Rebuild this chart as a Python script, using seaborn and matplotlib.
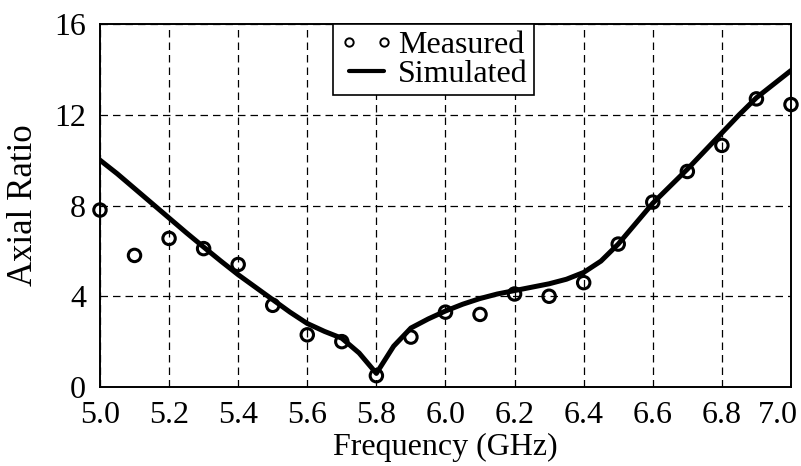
import numpy as np
import pandas as pd
import matplotlib
matplotlib.use("Agg")
import matplotlib.pyplot as plt
import matplotlib.transforms as mtransforms
from matplotlib.lines import Line2D
import seaborn as sns

# Measured axial ratio (every 0.1 GHz)
meas_freq = [5.0, 5.1, 5.2, 5.3, 5.4, 5.5, 5.6, 5.7, 5.8, 5.9, 6.0,
             6.1, 6.2, 6.3, 6.4, 6.5, 6.6, 6.7, 6.8, 6.9, 7.0]
meas_ar = [7.8, 5.8, 6.55, 6.1, 5.4, 3.6, 2.3, 2.0, 0.5, 2.2, 3.3,
           3.2, 4.1, 4.0, 4.6, 6.3, 8.15, 9.5, 10.65, 12.7, 12.45]

# Simulated axial ratio (every 0.05 GHz)
sim_freq = [5.00, 5.05, 5.10, 5.15, 5.20, 5.25, 5.30, 5.35, 5.40, 5.45,
            5.50, 5.55, 5.60, 5.65, 5.70, 5.75, 5.80, 5.85, 5.90, 5.95,
            6.00, 6.05, 6.10, 6.15, 6.20, 6.25, 6.30, 6.35, 6.40, 6.45,
            6.50, 6.55, 6.60, 6.65, 6.70, 6.75, 6.80, 6.85, 6.90, 6.95, 7.00]
sim_ar = [10.0, 9.4, 8.75, 8.1, 7.45, 6.8, 6.17, 5.55, 4.95, 4.4,
          3.85, 3.3, 2.8, 2.45, 2.15, 1.5, 0.6, 1.8, 2.6, 3.0,
          3.35, 3.65, 3.9, 4.1, 4.25, 4.4, 4.55, 4.75, 5.05, 5.55,
          6.3, 7.2, 8.1, 8.85, 9.6, 10.4, 11.2, 12.0, 12.75, 13.35, 13.95]

x_ticks = [5.0, 5.2, 5.4, 5.6, 5.8, 6.0, 6.2, 6.4, 6.6, 6.8, 7.0]
y_ticks = [0, 4, 8, 12, 16]

sns.set_theme(style="white")
plt.rcParams["font.family"] = ["Liberation Serif", "DejaVu Serif"]
plt.rcParams["text.color"] = "black"
plt.rcParams["axes.labelcolor"] = "black"

meas_df = pd.DataFrame({"Frequency": meas_freq, "AR": meas_ar})
sim_df = pd.DataFrame({"Frequency": sim_freq, "AR": sim_ar})

fig = plt.figure(figsize=(8.01, 4.66), dpi=100)
ax = fig.add_axes([0.1248, 0.1695, 0.8627, 0.779])

sns.lineplot(data=sim_df, x="Frequency", y="AR", ax=ax, color="black",
             linewidth=3.6, legend=False, zorder=3)
sns.scatterplot(data=meas_df, x="Frequency", y="AR", ax=ax, marker="o",
                s=80, facecolor="none", edgecolor="black", linewidth=2.2,
                legend=False, zorder=4, clip_on=False)

ax.set_xlim(5.0, 7.0)
ax.set_ylim(0, 16)
ax.set_xticks(x_ticks)
ax.set_xticklabels([f"{v:.1f}" for v in x_ticks])
ax.set_yticks(y_ticks)
ax.set_yticklabels([str(v) for v in y_ticks])

ax.grid(True, color="black", linestyle=(0, (6, 4)), linewidth=0.9)
for s in ax.spines.values():
    s.set_color("black")
    s.set_linewidth(1.4)
ax.tick_params(axis="both", direction="out", length=7, width=1.2,
               colors="black", labelsize=23, pad=3)

# pull the last frequency label in from the figure edge
last = ax.get_xticklabels()[-1]
last.set_transform(last.get_transform() +
                   mtransforms.ScaledTranslation(-13 / 100, 0,
                                                 fig.dpi_scale_trans))

ax.set_xlabel("Frequency (GHz)", fontsize=23, labelpad=2)
ax.set_ylabel("Axial Ratio", fontsize=25, labelpad=10)

# Legend with small hollow markers and a short thick line
h_meas = Line2D([], [], marker="o", linestyle="none", markersize=6,
                markerfacecolor="none", markeredgecolor="black",
                markeredgewidth=1.4)
h_sim = Line2D([], [], color="black", linewidth=3.0)
leg = ax.legend([h_meas, h_sim], ["Measured", "Simulated"],
                loc="upper left", bbox_to_anchor=(0.337, 1.0),
                fontsize=23, frameon=True, fancybox=False, framealpha=1,
                edgecolor="black", borderpad=0.2, labelspacing=0.0,
                handlelength=1.7, handletextpad=0.15, numpoints=2,
                borderaxespad=0)
leg.get_frame().set_linewidth(1.2)

fig.savefig("out.png", dpi=100)
